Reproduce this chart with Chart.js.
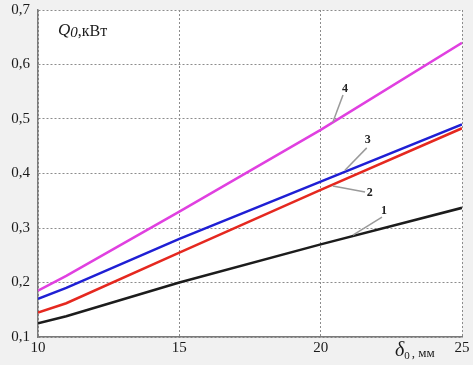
<!DOCTYPE html>
<html>
<head>
<meta charset="utf-8">
<script src="https://cdn.jsdelivr.net/npm/chart.js@4.4.0/dist/chart.umd.min.js"></script>
<style>
  body { margin: 0; background: #f1f1f1; }
  #wrap { width: 473px; height: 365px; position: relative; }
</style>
</head>
<body>
<div id="wrap"><canvas id="chart"></canvas></div>
<script>
'use strict';

// Data
const thickness = [10, 11, 15, 20, 25];
const curve1 = [0.125, 0.138, 0.200, 0.270, 0.337];
const curve2 = [0.145, 0.162, 0.255, 0.370, 0.483];
const curve3 = [0.170, 0.190, 0.280, 0.385, 0.490];
const curve4 = [0.185, 0.212, 0.330, 0.480, 0.640];
const curveNames = ['1', '2', '3', '4'];
const curveColors = ['#1c1c1c', '#e5281f', '#1f1fd4', '#e040e0'];
const yTicks = [0.1, 0.2, 0.3, 0.4, 0.5, 0.6, 0.7];
const xTicks = [10, 15, 20, 25];

// leader labels in data units: number position, then line from/to
const leaders = [
  { text: '1', tx: 22.24, ty: 0.331, x1: 22.17, y1: 0.320, x2: 21.14, y2: 0.287 },
  { text: '2', tx: 21.74, ty: 0.364, x1: 21.57, y1: 0.366, x2: 20.43, y2: 0.377 },
  { text: '3', tx: 21.67, ty: 0.461, x1: 21.63, y1: 0.447, x2: 20.86, y2: 0.406 },
  { text: '4', tx: 20.86, ty: 0.555, x1: 20.79, y1: 0.544, x2: 20.43, y2: 0.494 }
];

function toPoints(values) {
  return thickness.map((x, i) => ({ x: x, y: values[i] }));
}

const plotBackground = {
  id: 'plotBackground',
  beforeDraw(chart) {
    const ctx = chart.ctx;
    const a = chart.chartArea;
    ctx.save();
    ctx.fillStyle = '#ffffff';
    ctx.fillRect(a.left, a.top, a.right - a.left, a.bottom - a.top);
    ctx.restore();
  }
};

const annotations = {
  id: 'annotations',
  afterDatasetsDraw(chart) {
    const ctx = chart.ctx;
    const xs = chart.scales.x;
    const ys = chart.scales.y;
    const a = chart.chartArea;
    ctx.save();
    // leader lines and numbers
    ctx.strokeStyle = '#9a9a9a';
    ctx.lineWidth = 1.5;
    ctx.fillStyle = '#222';
    ctx.font = 'bold 12px "Liberation Serif", serif';
    ctx.textAlign = 'center';
    ctx.textBaseline = 'middle';
    for (let l of leaders) {
      ctx.beginPath();
      ctx.moveTo(xs.getPixelForValue(l.x1), ys.getPixelForValue(l.y1));
      ctx.lineTo(xs.getPixelForValue(l.x2), ys.getPixelForValue(l.y2));
      ctx.stroke();
      ctx.fillText(l.text, xs.getPixelForValue(l.tx), ys.getPixelForValue(l.ty));
    }
    // y axis title inside plot
    ctx.textAlign = 'left';
    ctx.fillStyle = '#1a1a1a';
    let x = a.left + 20;
    const y = a.top + 21;
    ctx.font = 'italic 17px "Liberation Serif", serif';
    ctx.fillText('Q', x, y);
    x += ctx.measureText('Q').width;
    ctx.font = 'italic 15px "Liberation Serif", serif';
    ctx.fillText('0', x, y + 2);
    x += ctx.measureText('0').width;
    ctx.font = '16px "Liberation Serif", serif';
    ctx.fillText(',кВт', x, y + 1);
    // x axis title
    let tx = xs.getPixelForValue(22.63);
    const ty = a.bottom + 14;
    ctx.font = 'italic 20px "Liberation Serif", serif';
    ctx.fillText('δ', tx, ty);
    tx += ctx.measureText('δ').width;
    ctx.font = '11px "Liberation Serif", serif';
    ctx.fillText('0', tx, ty + 5);
    tx += ctx.measureText('0').width + 2;
    ctx.font = '13px "Liberation Serif", serif';
    ctx.fillText(', мм', tx, ty + 3);
    ctx.restore();
  }
};

const ctx = document.getElementById('chart').getContext('2d');

const lineChart = new Chart(ctx, {
  type: 'line',
  data: {
    datasets: [curve1, curve2, curve3, curve4].map((values, i) => ({
      label: curveNames[i],
      data: toPoints(values),
      borderColor: curveColors[i],
      borderWidth: 2.5,
      pointRadius: 0,
      tension: 0,
      fill: false
    }))
  },
  options: {
    responsive: true,
    maintainAspectRatio: false,
    animation: false,
    layout: { padding: { top: 10, right: 11, left: 0, bottom: 0 } },
    plugins: {
      legend: { display: false },
      tooltip: { enabled: false }
    },
    scales: {
      x: {
        type: 'linear',
        min: 10,
        max: 25,
        afterBuildTicks(scale) {
          scale.ticks = xTicks.map(v => ({ value: v }));
        },
        afterFit(scale) {
          scale.height = 28;
          scale.paddingLeft = 0;
          scale.paddingRight = 0;
        },
        border: { display: true, color: '#7a7a7a', width: 1.5, dash: [2, 2] },
        grid: { color: '#8c8c8c', lineWidth: 1, drawTicks: false },
        ticks: {
          padding: 2,
          color: '#1a1a1a',
          font: { family: '"Liberation Serif", serif', size: 15 },
          callback: v => String(v)
        }
      },
      y: {
        type: 'linear',
        min: 0.1,
        max: 0.7,
        afterBuildTicks(scale) {
          scale.ticks = yTicks.map(v => ({ value: v }));
        },
        afterFit(scale) {
          scale.width = 38;
          scale.paddingTop = 0;
          scale.paddingBottom = 0;
        },
        border: { display: true, color: '#7a7a7a', width: 1.5, dash: [2, 2] },
        grid: { color: '#8c8c8c', lineWidth: 1, drawTicks: false },
        ticks: {
          padding: 8,
          color: '#1a1a1a',
          font: { family: '"Liberation Serif", serif', size: 15 },
          callback: v => v.toFixed(1).replace('.', ',')
        }
      }
    }
  },
  plugins: [plotBackground, annotations]
});
</script>
</body>
</html>
